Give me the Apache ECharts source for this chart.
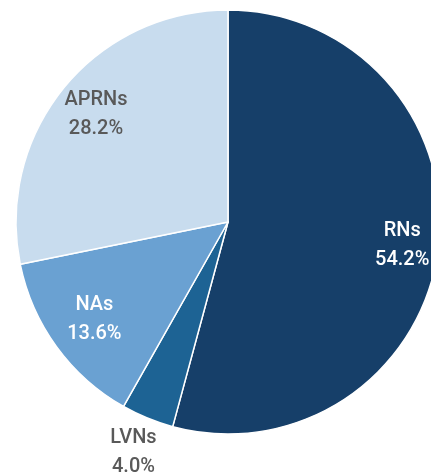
<!DOCTYPE html>
<html>
<head>
<meta charset="utf-8">
<script src="https://cdn.jsdelivr.net/npm/echarts@6/dist/echarts.min.js"></script>
<style>
  html, body { margin: 0; padding: 0; background: #fff; }
  #chart { width: 431px; height: 474px; }
</style>
</head>
<body>
<div id="chart"></div>
<script>
  // 数据
  var names = ['RNs', 'LVNs', 'NAs', 'APRNs']
  var shares = [54.2, 4.0, 13.6, 28.2]
  var sliceColors = ['#163f69', '#1d6394', '#6aa1d2', '#c8dcee']
  var labelColors = ['#ffffff', '#595959', '#ffffff', '#595959']
  var labelRadius = [0.815, 1.16, 0.765, 0.79] // 标签中心离圆心的距离(相对半径)

  var myChart = echarts.init(document.getElementById('chart'))
  var center = [228, 222]
  var R = 212
  var font = 'Roboto, sans-serif'

  function labelFmt (p) {
    return p.name + '\n' + p.value.toFixed(1) + '%'
  }

  // 只负责显示某一个标签的透明饼图
  function labelSeries (idx) {
    var k = labelRadius[idx]
    return {
      type: 'pie',
      silent: true,
      center: center,
      radius: [R * (k - 0.1), R * (k + 0.1)],
      startAngle: 90,
      clockwise: true,
      animation: false,
      itemStyle: { color: 'transparent', borderWidth: 0 },
      labelLine: { show: false },
      data: names.map(function (n, i) {
        return {
          name: n,
          value: shares[i],
          label: {
            show: i === idx,
            position: 'inside',
            formatter: labelFmt,
            color: labelColors[i],
            fontFamily: font,
            fontWeight: 500,
            fontSize: 20,
            lineHeight: 29,
            align: 'center'
          }
        }
      })
    }
  }

  var series = [{
    type: 'pie',
    center: center,
    radius: [0, R],
    startAngle: 90,
    clockwise: true,
    animation: false,
    label: { show: false },
    labelLine: { show: false },
    itemStyle: { borderColor: '#ffffff', borderWidth: 1.5 },
    data: names.map(function (n, i) {
      return { name: n, value: shares[i], itemStyle: { color: sliceColors[i] } }
    })
  }]
  for (var i = 0; i < names.length; i++) {
    series.push(labelSeries(i))
  }

  myChart.setOption({ series: series })
</script>
</body>
</html>
